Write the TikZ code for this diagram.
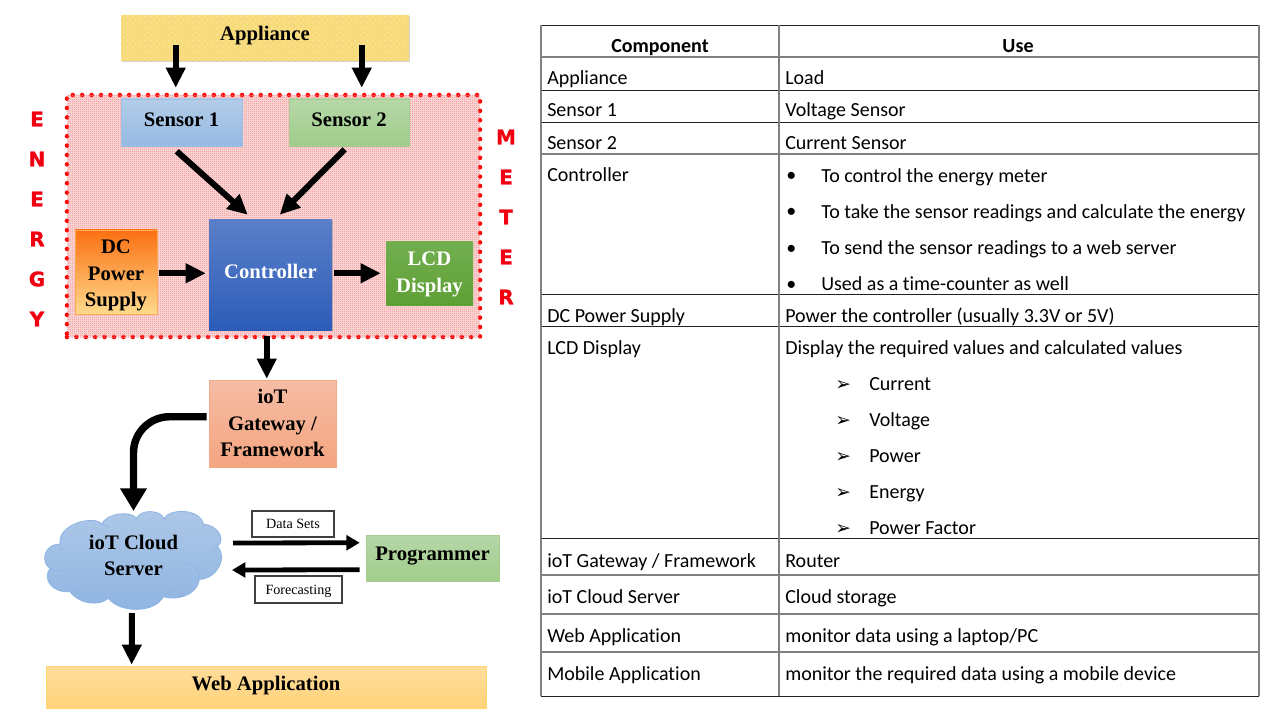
\documentclass[tikz,border=0pt]{standalone}
\usepackage{fontspec}
\setmainfont{Carlito}[Ligatures=NoCommon]
\newfontfamily\diagfont{Liberation Serif}
\newfontfamily\letterfont{DejaVu Sans}[BoldFeatures={FakeBold=1.2}]
\usetikzlibrary{arrows.meta,calc,patterns,shadows}
\pgfdeclarepatternformonly{meterweave}{\pgfqpoint{0pt}{0pt}}{\pgfqpoint{1.5pt}{1.5pt}}{\pgfqpoint{1.5pt}{1.5pt}}{%
  \pgfpathrectangle{\pgfqpoint{0pt}{0pt}}{\pgfqpoint{.75pt}{.75pt}}%
  \pgfpathrectangle{\pgfqpoint{.75pt}{.75pt}}{\pgfqpoint{.75pt}{.75pt}}%
  \pgfusepath{fill}}
\pgfdeclarepatternformonly{appldots}{\pgfqpoint{0pt}{0pt}}{\pgfqpoint{4.5pt}{4.5pt}}{\pgfqpoint{4.5pt}{4.5pt}}{%
  \pgfpathcircle{\pgfqpoint{1.1pt}{1.1pt}}{.55pt}%
  \pgfpathcircle{\pgfqpoint{3.35pt}{3.35pt}}{.55pt}%
  \pgfusepath{fill}}
\definecolor{tblline}{HTML}{222222}
\definecolor{tblgrey}{HTML}{808080}
\definecolor{meterfill}{HTML}{FBDCDC}
\definecolor{meterweave}{HTML}{F08C8C}
\definecolor{applfill}{HTML}{F7DA7A}
\definecolor{appldot}{HTML}{FFF2C4}
\definecolor{sonetop}{HTML}{B2CDE8}\definecolor{sonebot}{HTML}{96B9E2}\definecolor{sonedraw}{HTML}{A0BEE6}
\definecolor{stwotop}{HTML}{B6D7A8}\definecolor{stwobot}{HTML}{A0CD8A}\definecolor{stwodraw}{HTML}{A5CD91}
\definecolor{ctltop}{HTML}{5A7FC8}\definecolor{ctlbot}{HTML}{2C5CB8}
\definecolor{dctop}{HTML}{FA7012}\definecolor{dcbot}{HTML}{FFDA8C}\definecolor{dcdraw}{HTML}{FAAA50}
\definecolor{lcdtop}{HTML}{72AE50}\definecolor{lcdbot}{HTML}{5EA034}
\definecolor{gwtop}{HTML}{F6BCA5}\definecolor{gwbot}{HTML}{F4A580}\definecolor{gwdraw}{HTML}{F5AA87}
\definecolor{cltop}{HTML}{ADC8E8}\definecolor{clbot}{HTML}{8FB4E1}\definecolor{cldraw}{HTML}{8FB4E4}
\definecolor{webtop}{HTML}{FFDD9B}\definecolor{webbot}{HTML}{FFD37A}\definecolor{webdraw}{HTML}{FFD76E}
\definecolor{lettered}{HTML}{F00010}
\newcommand{\bxfont}{\diagfont\bfseries\fontsize{15.5}{19.7}\selectfont}
\newcommand{\stacked}[2]{\raisebox{\dimexpr#1-.25em\relax}[0pt][0pt]{\begin{tabular}{@{}c@{}}#2\end{tabular}}}
\newcommand{\bx}[7]{\node[diagbox,#6,minimum width={(#4-#2)*0.75pt},minimum height={(#5-#3)*0.75pt}] (#1) at ({(#2+#4)/2},{(#3+#5)/2}) {#7};}
\newcommand{\cell}[4]{\node[celltext] (#1) at (#2,#3) {#4};}
\newcommand{\tip}{{\letterfont\fontsize{14}{15}\selectfont ➢}}
\tikzset{
  x=0.75pt,y=-0.75pt,
  diagbox/.style={rectangle,inner sep=0pt,font=\bxfont,text=black},
  grad/.style 2 args={top color=#1,bottom color=#2},
  blockarrow/.style={-{Triangle[length=15pt,width=14pt]},line width=4.5pt,black},
  thinarrow/.style={-{Triangle[length=10pt,width=11pt]},line width=3.6pt,black},
  fatarrow/.style={-{Triangle[length=17pt,width=19pt]},line width=5.6pt,black},
  celltext/.style={anchor=base west,inner sep=0pt,font=\fontsize{15}{18}\selectfont,text=black},
  headtext/.style={anchor=base,inner sep=0pt,font=\bfseries\fontsize{15}{18}\selectfont,text=black},
  letter/.style={inner sep=0pt,font=\letterfont\bfseries\fontsize{15}{18}\selectfont,text=lettered},
  labelbox/.style={rectangle,draw=black!75,line width=0.8pt,fill=white,inner sep=0pt,font=\diagfont\fontsize{10.6}{13}\selectfont,text=black},
  tbl/.style={draw=tblline,line width=0.6pt},
  tblg/.style={draw=tblgrey,line width=1.3pt},
}
\begin{document}
\begin{tikzpicture}
\useasboundingbox (0,0) rectangle (1280,720);
\fill[white] (0,0) rectangle (1280,720);
% energy meter frame
\bx{meter}{67}{95}{480}{337}{fill=meterfill,postaction={pattern=meterweave,pattern color=meterweave},draw=red,line width=3.4pt,dash pattern=on 0pt off 7.05pt,line cap=round}{}
% boxes
\bx{appliance}{121}{15}{409}{61}{fill=applfill,postaction={pattern=appldots,pattern color=appldot},drop shadow={shadow xshift=0.8pt,shadow yshift=-1pt,opacity=.35}}{\stacked{2.25pt}{Appliance}}
\bx{sensor1}{121}{99}{242}{146}{grad={sonetop}{sonebot},draw=sonedraw,line width=.4pt}{\stacked{1.5pt}{Sensor 1}}
\bx{sensor2}{289}{99}{409}{146}{grad={stwotop}{stwobot},draw=stwodraw,line width=.4pt}{\stacked{1.5pt}{Sensor 2}}
\bx{controller}{209}{220}{332}{330}{grad={ctltop}{ctlbot},drop shadow={shadow xshift=0.8pt,shadow yshift=-1pt,opacity=.3},text=white}{\stacked{1.5pt}{Controller}}
\bx{dc}{75}{230}{157}{314}{grad={dctop}{dcbot},draw=dcdraw,line width=.4pt}{\stacked{-1.9pt}{DC\\Power\\Supply}}
\bx{lcd}{386}{242}{473}{305}{grad={lcdtop}{lcdbot},text=white}{\stacked{0pt}{LCD\\Display}}
\bx{gateway}{209}{380}{336}{467}{grad={gwtop}{gwbot},draw=gwdraw,line width=.4pt}{\stacked{-.75pt}{ioT\\Gateway /\\Framework}}
% cloud outline, traced in a scope scaled to thirds of a pixel
\begin{scope}[x=.25pt,y=-.25pt,yshift=-262.5pt]
\path[grad={cltop}{clbot},draw=cldraw,line width=.6pt]
  (180,582) .. controls (172,520) and (285,495) .. (305,522)
  .. controls (320,490) and (390,480) .. (410,505)
  .. controls (420,478) and (480,478) .. (492,505)
  .. controls (510,475) and (600,475) .. (610,522)
  .. controls (650,525) and (680,565) .. (652,590)
  .. controls (685,620) and (650,688) .. (598,688)
  .. controls (590,740) and (525,752) .. (490,740)
  .. controls (465,790) and (360,790) .. (325,745)
  .. controls (300,768) and (240,765) .. (210,725)
  .. controls (160,730) and (125,690) .. (150,655)
  .. controls (125,640) and (125,585) .. (180,582) -- cycle;
\draw[cldraw,line width=.5pt] (180,582) .. controls (178,590) and (182,597) .. (186,602);
\draw[cldraw,line width=.5pt] (305,522) .. controls (310,525) and (318,528) .. (325,532);
\draw[cldraw,line width=.5pt] (410,505) .. controls (409,510) and (408,514) .. (407,518);
\draw[cldraw,line width=.5pt] (492,505) .. controls (495,508) and (498,510) .. (502,512);
\draw[cldraw,line width=.5pt] (610,522) .. controls (612,526) and (612,530) .. (612,535);
\draw[cldraw,line width=.5pt] (652,590) .. controls (648,596) and (643,601) .. (636,606);
\draw[cldraw,line width=.5pt] (598,688) .. controls (602,665) and (582,645) .. (558,636);
\draw[cldraw,line width=.5pt] (490,740) .. controls (497,734) and (504,729) .. (510,724);
\draw[cldraw,line width=.5pt] (325,745) .. controls (330,741) and (334,737) .. (337,732);
\draw[cldraw,line width=.5pt] (210,725) .. controls (215,724) and (222,722) .. (228,720);
\draw[cldraw,line width=.5pt] (150,655) .. controls (162,662) and (178,662) .. (192,658);
\end{scope}
\node[diagbox,minimum width=100pt,minimum height=50pt] (cloudsrv) at (133.5,560) {\stacked{2.25pt}{ioT Cloud\\Server}};
\bx{programmer}{366}{535}{499}{581}{grad={stwotop}{stwobot},draw=stwodraw,line width=.4pt}{\stacked{2.25pt}{Programmer}}
\bx{webapp}{46}{666}{486}{708}{grad={webtop}{webbot},draw=webdraw,line width=.5pt}{\stacked{1.5pt}{Web Application}}
\bx{datasets}{252}{511}{334}{537}{labelbox}{\stacked{-.5pt}{Data Sets}}
\bx{forecasting}{255}{576}{342}{603}{labelbox}{\stacked{-1pt}{Forecasting}}
% letters
\foreach \c/\y/\n in {E/119/e1,N/159/e2,E/199/e3,R/239/e4,G/279/e5,Y/319/e6}
  \node[letter] (\n) at (37,\y) {\c};
\foreach \c/\y/\n in {M/137/m1,E/177/m2,T/217/m3,E/257/m4,R/297/m5}
  \node[letter] (\n) at (506,\y) {\c};
% connectors
\draw[blockarrow] ($(appliance.south west)+(55,-16)$) -- ($(sensor1.north west)+(55,-11)$);
\draw[blockarrow] ($(appliance.south west)+(241,-16)$) -- ($(sensor2.north west)+(73,-11)$);
\draw[blockarrow] ($(sensor1.south west)+(56,5)$) -- ($(controller.north west)+(39,-5)$);
\draw[blockarrow] ($(sensor2.south west)+(56,3)$) -- ($(controller.north west)+(71,-5)$);
\draw[blockarrow] ($(dc.south east)+(2,-41)$) -- ($(controller.south west)+(-3,-57)$);
\draw[blockarrow] ($(controller.south east)+(2,-57)$) -- ($(lcd.south west)+(-5,-32)$);
\draw[blockarrow] ($(controller.south west)+(58,6)$) -- ($(gateway.north west)+(58,-1)$);
\draw[fatarrow,rounded corners=27pt] ($(gateway.north west)+(-2,37)$) -| ($(cloudsrv.center)+(0,-49)$);
\draw[thinarrow] ($(cloudsrv.center)+(99.5,-17)$) -- ($(programmer.north west)+(-6,8)$);
\draw[thinarrow] ($(programmer.north west)+(-6,35)$) -- ($(cloudsrv.center)+(98.5,10)$);
\draw[blockarrow] ($(cloudsrv.center)+(-1.5,53)$) -- ($(webapp.north west)+(86,-1)$);
% table
\foreach \y in {25,90,122,294,326,538,696}
  \draw[tbl] (541,\y) -- (1259,\y);
\foreach \y in {57,154,575,614,652}
  \draw[tblg] (541,\y) -- (1259,\y);
\foreach \x in {541,779,1259}
  \draw[tblg] (\x,25) -- (\x,696);
\node[headtext] (h1) at (660,53) {Component};
\node[headtext] (h2) at (1018,53) {Use};
\cell{a1}{547}{85}{Appliance}\cell{a2}{785}{85}{Load}
\cell{b1}{547}{117}{Sensor 1}\cell{b2}{785}{117}{Voltage Sensor}
\cell{c1}{547}{150}{Sensor 2}\cell{c2}{785}{150}{Current Sensor}
\cell{d1}{547}{182}{Controller}
\cell{d2}{786}{182}{•}\cell{d3}{821}{182.6}{To control the energy meter}
\cell{d4}{786}{218}{•}\cell{d5}{821}{218.6}{To take the sensor readings and calculate the energy}
\cell{d6}{786}{254}{•}\cell{d7}{821}{254}{To send the sensor readings to a web server}
\cell{d8}{786}{290}{•}\cell{d9}{821}{290}{Used as a time-counter as well}
\cell{e1t}{547}{322}{DC Power Supply}\cell{e2t}{785}{322}{Power the controller (usually 3.3V or 5V)}
\cell{f1}{547}{354}{LCD Display}\cell{f2}{785}{354}{Display the required values and calculated values}
\cell{g1}{835}{390}{\tip}\cell{g2}{869}{390}{Current}
\cell{g3}{835}{426}{\tip}\cell{g4}{869}{426}{Voltage}
\cell{g5}{835}{462}{\tip}\cell{g6}{869}{462}{Power}
\cell{g7}{835}{498}{\tip}\cell{g8}{869}{498}{Energy}
\cell{g9}{835}{534}{\tip}\cell{g10}{869}{534}{Power Factor}
\cell{h1t}{547}{567}{ioT Gateway / Framework}\cell{h2t}{785}{567}{Router}
\cell{i1}{547}{603}{ioT Cloud Server}\cell{i2}{785}{603}{Cloud storage}
\cell{j1}{547}{642}{Web Application}\cell{j2}{785}{642}{monitor data using a laptop/PC}
\cell{k1}{547}{680}{Mobile Application}\cell{k2}{785}{680}{monitor the required data using a mobile device}
\end{tikzpicture}
\end{document}
